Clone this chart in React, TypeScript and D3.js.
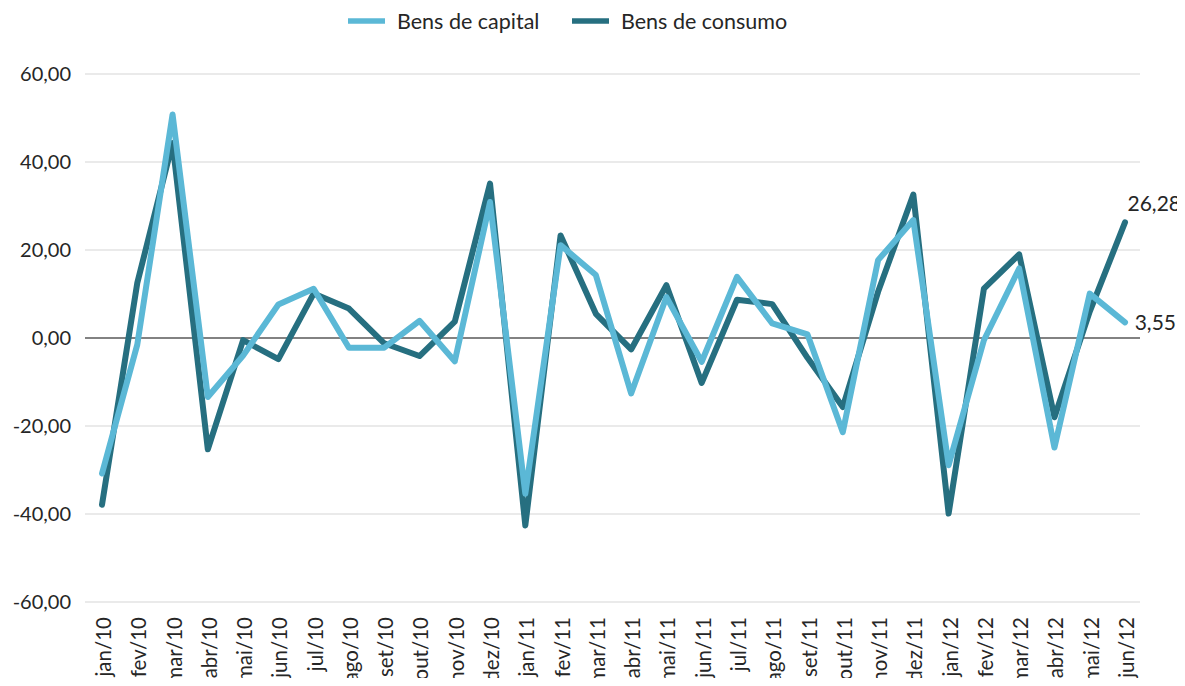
import { useRef, useEffect } from "react";
import * as d3 from "d3";

const months = [
  "jan/10", "fev/10", "mar/10", "abr/10", "mai/10", "jun/10", "jul/10", "ago/10", "set/10", "out/10", "nov/10", "dez/10",
  "jan/11", "fev/11", "mar/11", "abr/11", "mai/11", "jun/11", "jul/11", "ago/11", "set/11", "out/11", "nov/11", "dez/11",
  "jan/12", "fev/12", "mar/12", "abr/12", "mai/12", "jun/12",
];

const bensCapital = [
  -30.8, -1.5, 50.8, -13.4, -4.0, 7.6, 11.2, -2.2, -2.2, 3.9, -5.3, 30.9,
  -35.4, 21.1, 14.3, -12.6, 9.3, -5.4, 13.9, 3.3, 0.8, -21.4, 17.7, 26.8,
  -28.9, -0.5, 15.8, -24.9, 10.1, 3.55,
];

const bensConsumo = [
  -37.9, 12.5, 44.3, -25.3, -0.5, -4.8, 10.1, 6.7, -1.2, -4.1, 3.7, 35.1,
  -42.6, 23.3, 5.5, -2.6, 12.0, -10.2, 8.7, 7.7, -4.5, -15.7, 10.5, 32.6,
  -39.9, 11.2, 19.0, -18.0, 6.0, 26.28,
];

const yTicks = [-60, -40, -20, 0, 20, 40, 60];

const series = [
  { name: "Bens de consumo", values: bensConsumo, color: "#266f80" },
  { name: "Bens de capital", values: bensCapital, color: "#5bb8d6" },
];

const fmt = (v: number) => v.toFixed(2).replace(".", ",");

export default function App() {
  const ref = useRef<SVGSVGElement>(null);
  useEffect(() => {
    if (!ref.current) return;
    const svg = d3.select(ref.current);
    svg.selectAll("*").remove();
    const W = 1185, H = 686;
    const font = "Lato, 'Open Sans', sans-serif";
    svg.attr("width", W).attr("height", H).style("font-family", font);

    const x = d3.scalePoint<string>().domain(months).range([102, 1125]);
    const y = d3.scaleLinear().domain([-60, 60]).range([602, 74]);

    // gridlines + y labels
    svg.append("g").selectAll("line").data(yTicks.filter(t => t !== 0)).join("line")
      .attr("x1", 85).attr("x2", 1140).attr("y1", d => y(d)).attr("y2", d => y(d))
      .attr("stroke", "#e3e3e3").attr("stroke-width", 1.5);
    svg.append("g").selectAll("text").data(yTicks).join("text")
      .attr("x", 71).attr("y", d => y(d)).attr("dy", "0.35em").attr("text-anchor", "end")
      .attr("fill", "#262626").attr("font-size", "20px").text(d => fmt(d));

    // zero line
    svg.append("line").attr("x1", 85).attr("x2", 1140).attr("y1", y(0)).attr("y2", y(0))
      .attr("stroke", "#595959").attr("stroke-width", 1.5);

    // x labels rotated
    svg.append("g").selectAll("text").data(months).join("text")
      .attr("transform", d => `translate(${x(d)! + 9},617) rotate(-90)`)
      .attr("text-anchor", "end").attr("fill", "#262626").attr("font-size", "20.5px").text(d => d);

    const line = d3.line<number>().x((_, i) => x(months[i])!).y(d => y(d));
    series.forEach(s => {
      svg.append("path").datum(s.values).attr("d", line).attr("fill", "none")
        .attr("stroke", s.color).attr("stroke-width", 6)
        .attr("stroke-linejoin", "round").attr("stroke-linecap", "round");
    });

    // end labels
    const lastC = bensConsumo[bensConsumo.length - 1];
    const lastK = bensCapital[bensCapital.length - 1];
    svg.append("text").attr("x", 1181).attr("y", y(lastC) - 11).attr("text-anchor", "end")
      .attr("fill", "#262626").attr("font-size", "21px").text(fmt(lastC));
    svg.append("text").attr("x", 1176).attr("y", y(lastK) + 8).attr("text-anchor", "end")
      .attr("fill", "#262626").attr("font-size", "21px").text(fmt(lastK));

    // legend
    const legend = [
      { name: "Bens de capital", color: "#5bb8d6", x: 348 },
      { name: "Bens de consumo", color: "#266f80", x: 572 },
    ];
    const lg = svg.append("g");
    legend.forEach(l => {
      lg.append("line").attr("x1", l.x).attr("x2", l.x + 37).attr("y1", 21).attr("y2", 21)
        .attr("stroke", l.color).attr("stroke-width", 5.5);
      lg.append("text").attr("x", l.x + 49).attr("y", 21).attr("dy", "0.35em")
        .attr("fill", "#262626").attr("font-size", "21.5px").text(l.name);
    });
  }, []);

  return <svg ref={ref} style={{ display: "block", margin: -8 }} />;
}
